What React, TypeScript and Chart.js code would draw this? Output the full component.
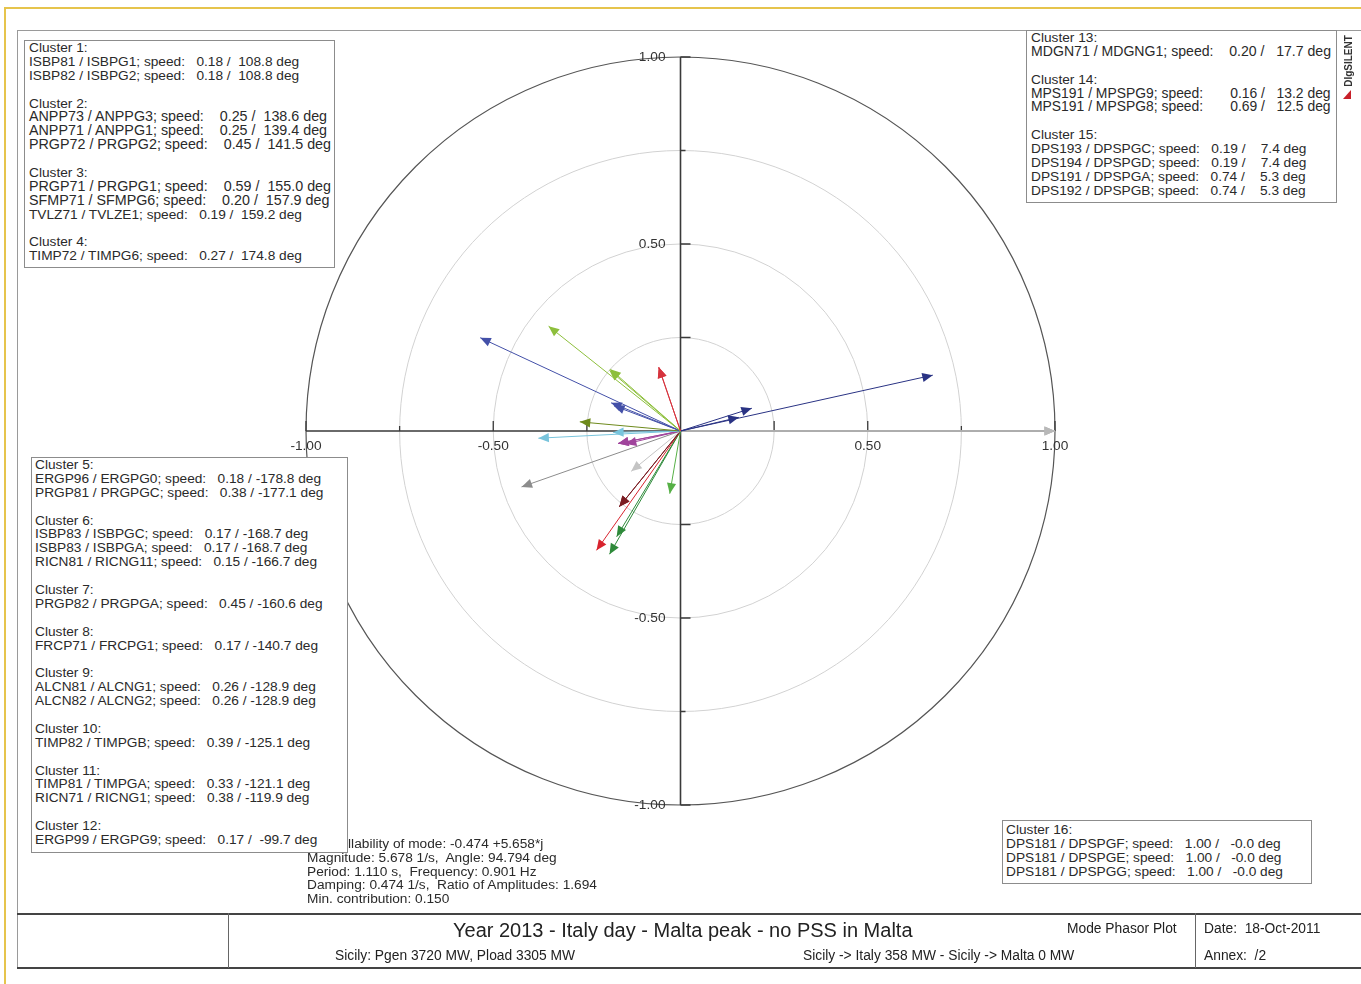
import React, { useEffect, useRef } from "react";
import { Chart, registerables } from "chart.js";

Chart.register(...registerables);

// ---------------- data ----------------
const machineNames = [
  "ISBP81 / ISBPG1", "ISBP82 / ISBPG2",
  "ANPP73 / ANPPG3", "ANPP71 / ANPPG1", "PRGP72 / PRGPG2",
  "PRGP71 / PRGPG1", "SFMP71 / SFMPG6", "TVLZ71 / TVLZE1",
  "TIMP72 / TIMPG6",
  "ERGP96 / ERGPG0", "PRGP81 / PRGPGC",
  "ISBP83 / ISBPGC", "ISBP83 / ISBPGA", "RICN81 / RICNG11",
  "PRGP82 / PRGPGA",
  "FRCP71 / FRCPG1",
  "ALCN81 / ALCNG1", "ALCN82 / ALCNG2",
  "TIMP82 / TIMPGB",
  "TIMP81 / TIMPGA", "RICN71 / RICNG1",
  "ERGP99 / ERGPG9",
  "MDGN71 / MDGNG1",
  "MPS191 / MPSPG9", "MPS191 / MPSPG8",
  "DPS193 / DPSPGC", "DPS194 / DPSPGD", "DPS191 / DPSPGA", "DPS192 / DPSPGB",
  "DPS181 / DPSPGF", "DPS181 / DPSPGE", "DPS181 / DPSPGG",
];
const speedMagnitudes = [
  0.18, 0.18,
  0.25, 0.25, 0.45,
  0.59, 0.20, 0.19,
  0.27,
  0.18, 0.38,
  0.17, 0.17, 0.15,
  0.45,
  0.17,
  0.26, 0.26,
  0.39,
  0.33, 0.38,
  0.17,
  0.20,
  0.16, 0.69,
  0.19, 0.19, 0.74, 0.74,
  1.0, 1.0, 1.0,
];
const speedAngles = [
  108.8, 108.8,
  138.6, 139.4, 141.5,
  155.0, 157.9, 159.2,
  174.8,
  -178.8, -177.1,
  -168.7, -168.7, -166.7,
  -160.6,
  -140.7,
  -128.9, -128.9,
  -125.1,
  -121.1, -119.9,
  -99.7,
  17.7,
  13.2, 12.5,
  7.4, 7.4, 5.3, 5.3,
  -0.0, -0.0, -0.0,
];
const clusterOf = [
  1, 1, 2, 2, 2, 3, 3, 3, 4, 5, 5, 6, 6, 6, 7, 8, 9, 9, 10, 11, 11, 12, 13, 14, 14,
  15, 15, 15, 15, 16, 16, 16,
];
// colour per cluster (null = not drawn in the plot)
const clusterColors: (string | null)[] = [
  "#d6333d", "#8dbf3c", "#4350a8", "#6e8a1c", "#78c4dc", "#a0449c", "#8c8c8c", "#c4c4c4",
  "#7b1c22", "#d8232e", "#2e8a3a", "#56b046", "#2a3384", "#2a3384", null, "#b8b8b8",
];
const ringRadii = [0.25, 0.5, 0.75];
const outerRadius = 1.0;
const axisTicks = [-1, -0.75, -0.5, -0.25, 0.25, 0.5, 0.75, 1];
const axisMinorTicks = [-0.75, 0.75];
const axisLabels = [-1, -0.5, 0.5, 1];

const legendGroups = [
  [1, 2, 3, 4],
  [13, 14, 15],
  [5, 6, 7, 8, 9, 10, 11, 12],
  [16],
];
const infoLines = [
  "Controllability of mode: -0.474 +5.658*j",
  "Magnitude: 5.678 1/s,  Angle: 94.794 deg",
  "Period: 1.110 s,  Frequency: 0.901 Hz",
  "Damping: 0.474 1/s,  Ratio of Amplitudes: 1.694",
  "Min. contribution: 0.150",
];
const footerTitle = "Year 2013 - Italy day - Malta peak - no PSS in Malta";
const footerLeft = "Sicily: Pgen 3720 MW, Pload 3305 MW";
const footerMid = "Sicily -> Italy 358 MW - Sicily -> Malta 0 MW";
const footerPlotType = "Mode Phasor Plot";
const footerDate = "Date:  18-Oct-2011";
const footerAnnex = "Annex:  /2";

// ---------------- text styling (not data) ----------------
const LEGEND_SIZE = 13.7;
const LEGEND_LH = 13.9;
// per-line typographic overrides (machine index -> font size, spaces after "speed:")
const lineTypography: Record<number, { size: number; spaces: number }> = {
  2: { size: 14.3, spaces: 4 },
  3: { size: 14.3, spaces: 4 },
  4: { size: 14.3, spaces: 4 },
  5: { size: 14.3, spaces: 4 },
  6: { size: 14.3, spaces: 4 },
  22: { size: 14.1, spaces: 4 },
  23: { size: 13.9, spaces: 7 },
  24: { size: 13.9, spaces: 7 },
};

const fmtAngle = (a: number) => (Object.is(a, -0) ? "-" : "") + a.toFixed(1);

function legendLines(clusters: number[]) {
  const out: { text: string; size: number }[] = [];
  clusters.forEach((c, ci) => {
    if (ci > 0) out.push({ text: " ", size: LEGEND_SIZE });
    out.push({ text: `Cluster ${c}:`, size: LEGEND_SIZE });
    clusterOf.forEach((cl, i) => {
      if (cl !== c) return;
      const t = lineTypography[i] || { size: LEGEND_SIZE, spaces: 3 };
      out.push({
        text: `${machineNames[i]}; speed:${" ".repeat(t.spaces)}${speedMagnitudes[i].toFixed(
          2
        )} / ${fmtAngle(speedAngles[i]).padStart(6, " ")} deg`,
        size: t.size,
      });
    });
  });
  return out;
}

const FONT = "'Liberation Sans', Arial, sans-serif";

const polarPlugin = {
  id: "polarFrame",
  beforeDatasetsDraw(chart: any) {
    const { ctx, scales } = chart;
    const xs = scales.x;
    const ys = scales.y;
    const cx = xs.getPixelForValue(0);
    const cy = ys.getPixelForValue(0);
    ctx.save();
    ctx.strokeStyle = "#d2d2d2";
    ctx.lineWidth = 1;
    ringRadii.forEach((r) => {
      const rx = xs.getPixelForValue(r) - cx;
      const ry = cy - ys.getPixelForValue(r);
      ctx.beginPath();
      ctx.ellipse(cx, cy, rx, ry, 0, 0, Math.PI * 2);
      ctx.stroke();
    });
    ctx.strokeStyle = "#555";
    ctx.lineWidth = 1.2;
    {
      const rx = xs.getPixelForValue(outerRadius) - cx;
      const ry = cy - ys.getPixelForValue(outerRadius);
      ctx.beginPath();
      ctx.ellipse(cx, cy, rx, ry, 0, 0, Math.PI * 2);
      ctx.stroke();
    }
    ctx.strokeStyle = "#3a3a3a";
    ctx.lineWidth = 1.6;
    ctx.beginPath();
    ctx.moveTo(xs.getPixelForValue(-outerRadius), cy);
    ctx.lineTo(xs.getPixelForValue(outerRadius), cy);
    ctx.moveTo(cx, ys.getPixelForValue(outerRadius));
    ctx.lineTo(cx, ys.getPixelForValue(-outerRadius));
    ctx.stroke();
    ctx.lineWidth = 1.3;
    ctx.beginPath();
    axisTicks.forEach((t) => {
      const len = axisMinorTicks.includes(t) ? 5 : 10;
      const px = xs.getPixelForValue(t);
      ctx.moveTo(px, cy);
      ctx.lineTo(px, cy - len);
      const py = ys.getPixelForValue(t);
      ctx.moveTo(cx, py);
      ctx.lineTo(cx + len, py);
    });
    ctx.stroke();
    ctx.fillStyle = "#333";
    ctx.font = `13.7px ${FONT}`;
    ctx.textBaseline = "middle";
    axisLabels.forEach((t) => {
      ctx.textAlign = "center";
      ctx.fillText(t.toFixed(2), xs.getPixelForValue(t), cy + 15);
      ctx.textAlign = "right";
      ctx.fillText(t.toFixed(2), cx - 15, ys.getPixelForValue(t));
    });
    ctx.restore();
  },
  afterDatasetsDraw(chart: any) {
    const { ctx } = chart;
    ctx.save();
    chart.data.datasets.forEach((ds: any, i: number) => {
      const meta = chart.getDatasetMeta(i);
      const p0 = meta.data[0];
      const p1 = meta.data[1];
      if (!p0 || !p1) return;
      const a = Math.atan2(p1.y - p0.y, p1.x - p0.x);
      const L = 10.5;
      const W = 4.6;
      const bx = p1.x - Math.cos(a) * L;
      const by = p1.y - Math.sin(a) * L;
      ctx.fillStyle = ds.headColor;
      ctx.beginPath();
      ctx.moveTo(p1.x, p1.y);
      ctx.lineTo(bx - Math.sin(a) * W, by + Math.cos(a) * W);
      ctx.lineTo(bx + Math.sin(a) * W, by - Math.cos(a) * W);
      ctx.closePath();
      ctx.fill();
    });
    ctx.restore();
  },
};

function PolarChart() {
  const ref = useRef<HTMLCanvasElement | null>(null);
  useEffect(() => {
    if (!ref.current) return;
    const datasets: any[] = [];
    machineNames.forEach((name, i) => {
      const color = clusterColors[clusterOf[i] - 1];
      if (!color) return;
      const rad = (speedAngles[i] * Math.PI) / 180;
      datasets.push({
        label: name,
        data: [
          { x: 0, y: 0 },
          { x: speedMagnitudes[i] * Math.cos(rad), y: speedMagnitudes[i] * Math.sin(rad) },
        ],
        showLine: true,
        borderColor: color,
        borderWidth: 1,
        pointRadius: 0,
        pointHoverRadius: 0,
        clip: false,
        headColor: color,
      });
    });
    const chart = new Chart(ref.current, {
      type: "scatter",
      data: { datasets },
      options: {
        responsive: false,
        animation: false,
        events: [],
        layout: { padding: { left: 306, right: 306, top: 57, bottom: 179 } },
        plugins: { legend: { display: false }, tooltip: { enabled: false } },
        scales: {
          x: { type: "linear", min: -1, max: 1, display: false },
          y: { type: "linear", min: -1, max: 1, display: false },
        },
      },
      plugins: [polarPlugin],
    } as any);
    return () => chart.destroy();
  }, []);
  return (
    <canvas
      ref={ref}
      width={1361}
      height={984}
      style={{ position: "absolute", left: 0, top: 0, width: 1361, height: 984 }}
    />
  );
}

function LegendBox({ l, t, r, b, pl, pt, clusters }: any) {
  return (
    <div
      style={{
        position: "absolute",
        left: l,
        top: t,
        width: r - l,
        height: b - t,
        boxSizing: "border-box",
        border: "1px solid #8c8c8c",
        background: "#fff",
        paddingLeft: pl,
        paddingTop: pt,
        color: "#2a2a2a",
        fontFamily: FONT,
        overflow: "hidden",
      }}
    >
      {legendLines(clusters).map((ln, i) => (
        <div
          key={i}
          style={{
            height: LEGEND_LH,
            lineHeight: `${LEGEND_LH}px`,
            fontSize: ln.size,
            whiteSpace: "pre",
          }}
        >
          {ln.text}
        </div>
      ))}
    </div>
  );
}

function Txt({ x, cy, size, children, style }: any) {
  return (
    <div
      style={{
        position: "absolute",
        left: x,
        top: cy - size * 0.6,
        font: `${size}px/${size * 1.2}px ${FONT}`,
        whiteSpace: "pre",
        color: "#222",
        ...style,
      }}
    >
      {children}
    </div>
  );
}

export default function App() {
  return (
    <div
      style={{
        position: "absolute",
        left: 0,
        top: 0,
        width: 1361,
        height: 984,
        overflow: "hidden",
        background: "#fff",
        fontFamily: FONT,
      }}
    >
      {/* yellow page border */}
      <div style={{ position: "absolute", left: 4, top: 7, width: 1361, height: 1.5, background: "#e6c44c" }} />
      <div style={{ position: "absolute", left: 4, top: 7, width: 1.5, height: 984, background: "#e6c44c" }} />
      {/* drawing frame */}
      <div style={{ position: "absolute", left: 17, top: 30, width: 1361, height: 1.3, background: "#9a9a9a" }} />
      <div style={{ position: "absolute", left: 17, top: 30, width: 1.3, height: 939, background: "#9a9a9a" }} />

      <PolarChart />

      {/* info text */}
      <div
        style={{
          position: "absolute",
          left: 307,
          top: 837,
          font: `13.7px/13.75px ${FONT}`,
          whiteSpace: "pre",
          color: "#2a2a2a",
        }}
      >
        {infoLines.join("\n")}
      </div>

      {/* legend boxes */}
      <LegendBox l={24} t={40} r={335} b={268} pl={4} pt={0} clusters={legendGroups[0]} />
      <LegendBox l={1026} t={30} r={1337} b={203} pl={4} pt={0} clusters={legendGroups[1]} />
      <LegendBox l={31} t={457} r={348} b={853} pl={3} pt={0} clusters={legendGroups[2]} />
      <LegendBox l={1002} t={820} r={1312} b={884} pl={3} pt={2} clusters={legendGroups[3]} />

      {/* DIgSILENT logo */}
      <div
        style={{
          position: "absolute",
          left: 1348,
          top: 61,
          transform: "translate(-50%, -50%) rotate(-90deg)",
          font: `bold 10px ${FONT}`,
          color: "#333",
          whiteSpace: "nowrap",
        }}
      >
        DIgSILENT
      </div>
      <div
        style={{
          position: "absolute",
          left: 1343,
          top: 90,
          width: 8,
          height: 9,
          background: "#c8202a",
          clipPath: "polygon(100% 0, 100% 100%, 0 100%)",
        }}
      />

      {/* footer */}
      <div style={{ position: "absolute", left: 17, top: 913, width: 1344, height: 2, background: "#444" }} />
      <div style={{ position: "absolute", left: 17, top: 967, width: 1344, height: 2, background: "#444" }} />
      <div style={{ position: "absolute", left: 228, top: 913, width: 1.3, height: 55, background: "#666" }} />
      <div style={{ position: "absolute", left: 1195, top: 913, width: 1.3, height: 55, background: "#666" }} />
      <Txt x={453} cy={930} size={20}>{footerTitle}</Txt>
      <Txt x={1067} cy={929} size={13.8}>{footerPlotType}</Txt>
      <Txt x={1204} cy={929} size={13.8}>{footerDate}</Txt>
      <Txt x={335} cy={956} size={13.8}>{footerLeft}</Txt>
      <Txt x={803} cy={956} size={13.8}>{footerMid}</Txt>
      <Txt x={1204} cy={956} size={13.8}>{footerAnnex}</Txt>
    </div>
  );
}
